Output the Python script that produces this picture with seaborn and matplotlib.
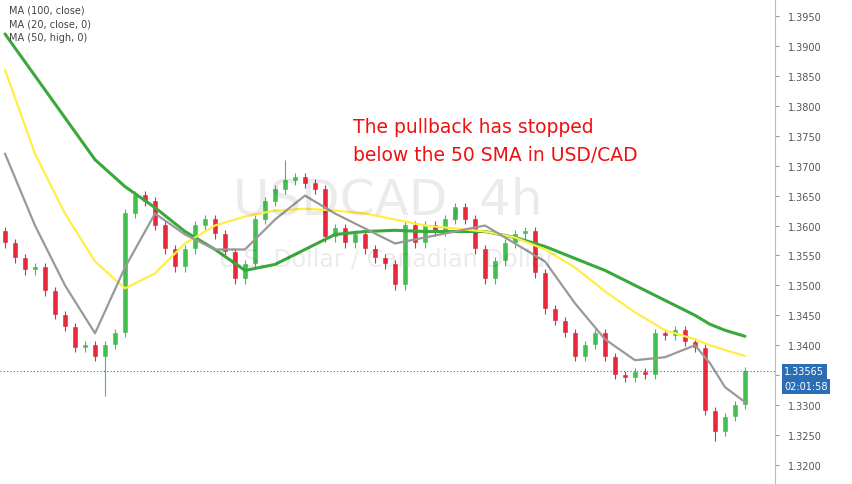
import numpy as np
import pandas as pd
import seaborn as sns
import matplotlib.pyplot as plt

# candle closes (4h); open = previous close
closes = [1.3570, 1.3545, 1.3525, 1.3530, 1.3490, 1.3450, 1.3430, 1.3395, 1.3400, 1.3380,
          1.3400, 1.3420, 1.3620, 1.3650, 1.3640, 1.3600, 1.3560, 1.3530, 1.3560, 1.3600,
          1.3610, 1.3585, 1.3555, 1.3510, 1.3535, 1.3610, 1.3640, 1.3660, 1.3675, 1.3680,
          1.3670, 1.3660, 1.3580, 1.3595, 1.3570, 1.3585, 1.3560, 1.3545, 1.3535, 1.3500,
          1.3600, 1.3570, 1.3600, 1.3590, 1.3610, 1.3630, 1.3610, 1.3560, 1.3510, 1.3540,
          1.3570, 1.3585, 1.3590, 1.3520, 1.3460, 1.3440, 1.3420, 1.3380, 1.3400, 1.3420,
          1.3380, 1.3350, 1.3345, 1.3355, 1.3350, 1.3420, 1.3415, 1.3425, 1.3405, 1.3395,
          1.3290, 1.3255, 1.3280, 1.3300, 1.33565]
first_open = 1.3590
long_wicks = {10: 1.3315, 28: 1.3710, 71: 1.3240}

ma_x = [0, 3, 6, 9, 12, 15, 18, 21, 24, 27, 30, 33, 36, 39, 42, 45, 48, 51, 54, 57,
        60, 63, 66, 69, 70.5, 72, 74]
ma20 = [1.3720, 1.3600, 1.3500, 1.3420, 1.3530, 1.3620, 1.3585, 1.3560, 1.3560, 1.3610,
        1.3650, 1.3620, 1.3595, 1.3570, 1.3580, 1.3590, 1.3600, 1.3570, 1.3540, 1.3470,
        1.3410, 1.3375, 1.3380, 1.3400, 1.3370, 1.3330, 1.3305]
ma50 = [1.3860, 1.3720, 1.3620, 1.3540, 1.3495, 1.3520, 1.3570, 1.3600, 1.3615, 1.3625,
        1.3628, 1.3625, 1.3620, 1.3610, 1.3600, 1.3595, 1.3590, 1.3580, 1.3560, 1.3530,
        1.3490, 1.3455, 1.3425, 1.3410, 1.3400, 1.3392, 1.3382]
ma100 = [1.3920, 1.3850, 1.3780, 1.3710, 1.3665, 1.3630, 1.3590, 1.3560, 1.3525, 1.3535,
         1.3560, 1.3585, 1.3590, 1.3592, 1.3590, 1.3590, 1.3590, 1.3580, 1.3565, 1.3545,
         1.3525, 1.3500, 1.3475, 1.3450, 1.3435, 1.3425, 1.3415]

yticks = np.round(np.arange(1.3200, 1.3951, 0.0050), 4)
last_price = 1.33565

sns.set_style("white")
fig = plt.figure(figsize=(8.52, 4.85), dpi=100)
ax = fig.add_axes([0, 0, 775 / 852, 1])

opens = [first_open] + closes[:-1]
idx = np.arange(len(closes))
up_col, dn_col = "#3fc04f", "#e8283b"
for i, o, c in zip(idx, opens, closes):
    col = up_col if c >= o else dn_col
    hi = max(o, c) + 0.0007
    lo = min(o, c) - 0.0007
    if i in long_wicks:
        w = long_wicks[i]
        hi, lo = max(hi, w), min(lo, w)
    ax.vlines(i, lo, hi, color=col, lw=0.8)
    ax.bar(i, abs(c - o) + 0.0002, bottom=min(o, c), width=0.55, color=col)

df = pd.DataFrame({"x": ma_x, "ma20": ma20, "ma50": ma50, "ma100": ma100})
sns.lineplot(data=df, x="x", y="ma100", ax=ax, color="#3aa83a", lw=2.2)
sns.lineplot(data=df, x="x", y="ma50", ax=ax, color="#ffee44", lw=1.6)
sns.lineplot(data=df, x="x", y="ma20", ax=ax, color="#999999", lw=1.6)

ax.axhline(last_price, color="#2a6fb5", lw=0.8, ls=(0, (1, 2)))

ax.set_xlim(-0.5, 77.0)
ax.set_ylim(1.31682, 1.39784)
ax.set_xticks([])
ax.yaxis.tick_right()
ax.set_yticks(yticks)
# the 1.3350 label sits under the last-price box, as in the reference
ax.set_yticklabels(["" if abs(t - 1.3350) < 1e-6 else f"{t:.4f}" for t in yticks],
                   fontsize=7, color="#555555")
ax.tick_params(axis="y", length=3, color="#999999", pad=6)
ax.set_xlabel("")
ax.set_ylabel("")
for s in ["top", "left", "bottom"]:
    ax.spines[s].set_visible(False)
ax.spines["right"].set_color("#bbbbbb")

ax.text(0.5, 0.585, "USDCAD, 4h", transform=ax.transAxes, ha="center", va="center",
        fontsize=36, color="#000000", alpha=0.08)
ax.text(0.5, 0.465, "U.S. Dollar / Canadian Dollar", transform=ax.transAxes, ha="center",
        va="center", fontsize=17, color="#000000", alpha=0.08)

for k, lab in enumerate(["MA (100, close)", "MA (20, close, 0)", "MA (50, high, 0)"]):
    ax.text(0.012, 0.988 - k * 0.028, lab, transform=ax.transAxes, fontsize=7,
            color="#444444", va="top")

ax.text(0.455, 0.66, "The pullback has stopped\nbelow the 50 SMA in USD/CAD",
        transform=ax.transAxes, fontsize=13.5, color="#ee1111", va="bottom",
        linespacing=1.6)

ax.text(1.012, last_price, f"{last_price:.5f}", transform=ax.get_yaxis_transform(),
        fontsize=7, color="white", va="center",
        bbox=dict(boxstyle="square,pad=0.25", fc="#2a6fb5", ec="none"))
ax.text(1.012, last_price - 0.0025, "02:01:58", transform=ax.get_yaxis_transform(),
        fontsize=7, color="white", va="center",
        bbox=dict(boxstyle="square,pad=0.25", fc="#2a6fb5", ec="none"))

fig.savefig("out.png", dpi=100)
